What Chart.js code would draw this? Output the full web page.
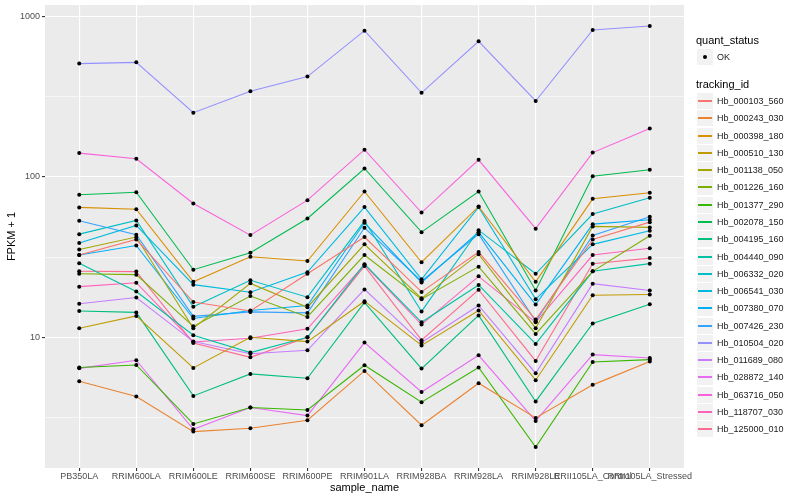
<!DOCTYPE html>
<html>
<head>
<meta charset="utf-8">
<script src="https://cdn.jsdelivr.net/npm/chart.js@4.4.0/dist/chart.umd.min.js"></script>
<style>
  body { margin: 0; background: #fff; font-family: "Liberation Sans", Arial, sans-serif; }
  #wrap { position: relative; width: 800px; height: 500px; }
  #legend { position: absolute; left: 0; top: 0; width: 800px; height: 500px; pointer-events: none; }
  .lt { position: absolute; left: 696px; font-size: 11px; color: #000; line-height: 14px; }
  .key { position: absolute; left: 697px; width: 16px; height: 16px; background: #F2F2F2; }
  .kl { position: absolute; left: 1px; top: 7px; width: 14px; height: 2px; }
  .dot { position: absolute; left: 6px; top: 6px; width: 4px; height: 4px; border-radius: 50%; background: #000; }
  .lab { position: absolute; left: 717px; font-size: 9px; color: #1a1a1a; line-height: 12px; }
</style>
</head>
<body>
<div id="wrap">
  <canvas id="chart" width="800" height="500"></canvas>
  <div id="legend"></div>
</div>
<script>
// sample order along the x axis
const samples = ["PB350LA", "RRIM600LA", "RRIM600LE", "RRIM600SE", "RRIM600PE", "RRIM901LA",
                 "RRIM928BA", "RRIM928LA", "RRIM928LE", "RRII105LA_Control", "RRII105LA_Stressed"];

// FPKM + 1, one array per gene, same order as samples
const hb_000103_560 = [32.6, 40.8, 16.6, 14.6, 24.9, 42.2, 19.2, 34.0, 12.9, 40.8, 52.3];
const hb_000243_030 = [5.32, 4.27, 2.58, 2.71, 3.04, 6.17, 2.83, 5.17, 3.14, 5.05, 7.06];
const hb_000398_180 = [64.6, 63.0, 22.2, 31.8, 29.9, 81.2, 29.4, 65.5, 22.2, 73.1, 79.7];
const hb_000510_130 = [11.4, 13.6, 6.44, 10.0, 9.4, 16.8, 8.9, 14.7, 5.4, 18.3, 18.5];
const hb_001138_050 = [35.3, 42.2, 11.4, 21.7, 15.4, 38.0, 17.5, 33.0, 11.4, 49.2, 48.5];
const hb_001226_160 = [24.9, 24.6, 11.7, 18.1, 13.4, 32.6, 17.3, 27.6, 10.5, 25.8, 43.0];
const hb_001377_290 = [6.48, 6.72, 2.88, 3.65, 3.52, 6.69, 3.94, 6.48, 2.07, 7.02, 7.26];
const hb_002078_150 = [77.5, 80.4, 26.4, 33.7, 55.1, 113, 45.3, 81.2, 19.6, 101, 111];
const hb_004195_160 = [14.6, 14.3, 4.31, 5.91, 5.55, 16.5, 6.38, 13.7, 3.98, 12.2, 16.1];
const hb_004440_090 = [29.0, 19.3, 10.3, 8.03, 10.0, 28.6, 12.4, 21.2, 9.09, 25.8, 28.8];
const hb_006332_020 = [44.0, 53.6, 15.5, 22.7, 17.8, 53.1, 14.5, 46.6, 24.9, 58.7, 74.2];
const hb_006541_030 = [38.7, 49.9, 21.3, 19.1, 25.5, 64.9, 23.0, 64.9, 17.3, 38.0, 46.2];
const hb_007380_070 = [32.6, 37.4, 13.1, 14.7, 15.8, 51.8, 22.0, 45.3, 16.0, 50.8, 54.1];
const hb_007426_230 = [53.3, 43.6, 13.5, 14.4, 14.2, 48.2, 22.4, 44.0, 12.6, 43.2, 56.5];
const hb_010504_020 = [510, 519, 252, 343, 423, 818, 335, 702, 298, 826, 875];
const hb_011689_080 = [16.2, 17.7, 9.4, 7.9, 8.3, 19.9, 9.27, 15.8, 5.97, 21.6, 19.6];
const hb_028872_140 = [6.4, 7.19, 2.67, 3.65, 3.25, 9.27, 4.56, 7.72, 3.01, 7.80, 7.43];
const hb_063716_050 = [141, 130, 68.4, 43.4, 71.7, 148, 60, 128, 47.6, 142, 201];
const hb_118707_030 = [20.7, 21.9, 9.35, 9.86, 11.3, 28.4, 12.0, 24.0, 12.4, 32.6, 35.9];
const hb_125000_010 = [25.8, 25.7, 9.2, 7.5, 10.0, 27.8, 9.6, 19.8, 7.12, 28.8, 31.2];

const series = [
  ["Hb_000103_560", hb_000103_560], ["Hb_000243_030", hb_000243_030],
  ["Hb_000398_180", hb_000398_180], ["Hb_000510_130", hb_000510_130],
  ["Hb_001138_050", hb_001138_050], ["Hb_001226_160", hb_001226_160],
  ["Hb_001377_290", hb_001377_290], ["Hb_002078_150", hb_002078_150],
  ["Hb_004195_160", hb_004195_160], ["Hb_004440_090", hb_004440_090],
  ["Hb_006332_020", hb_006332_020], ["Hb_006541_030", hb_006541_030],
  ["Hb_007380_070", hb_007380_070], ["Hb_007426_230", hb_007426_230],
  ["Hb_010504_020", hb_010504_020], ["Hb_011689_080", hb_011689_080],
  ["Hb_028872_140", hb_028872_140], ["Hb_063716_050", hb_063716_050],
  ["Hb_118707_030", hb_118707_030], ["Hb_125000_010", hb_125000_010]
];

const yTicks = [Math.sqrt(10), 10, Math.sqrt(1000), 100, Math.sqrt(100000), 1000];
const majorTicks = [10, 100, 1000];

// ggplot hue palette, 20 levels
const palette = ["#F8766D", "#EA8331", "#D89000", "#C09B00", "#A3A500", "#7CAE00", "#39B600",
                 "#00BB4E", "#00BF7D", "#00C1A3", "#00BFC4", "#00BAE0", "#00B0F6", "#35A2FF",
                 "#9590FF", "#C77CFF", "#E76BF3", "#FA62DB", "#FF62BC", "#FF6C91"];

const isMajor = v => majorTicks.some(m => Math.abs(m - v) < 1e-6);

const datasets = [];
series.forEach(([name, vals], i) => {
  const pts = vals.map((v, j) => ({ x: j, y: v }));
  datasets.push({
    label: name, data: pts, borderColor: palette[i], borderWidth: 1.1,
    pointRadius: 0, fill: false, order: 2
  });
  datasets.push({
    label: name + " pts", data: pts, showLine: false, pointRadius: 2,
    pointBackgroundColor: "#000", pointBorderWidth: 0, order: 1
  });
});

const panelBg = {
  id: "panelBg",
  beforeDraw(chart) {
    const a = chart.chartArea, c = chart.ctx;
    c.save();
    c.fillStyle = "#EBEBEB";
    c.fillRect(a.left, a.top, a.right - a.left, a.bottom - a.top);
    c.restore();
  }
};

new Chart(document.getElementById("chart"), {
  type: "line",
  data: { datasets },
  plugins: [panelBg],
  options: {
    responsive: false,
    animation: false,
    layout: { padding: { top: 5, right: 116, left: 0, bottom: 0 } },
    plugins: { legend: { display: false }, tooltip: { enabled: false } },
    scales: {
      x: {
        type: "linear", min: -0.6, max: 10.6,
        afterBuildTicks: s => { s.ticks = samples.map((_, i) => ({ value: i })); },
        afterFit: s => { s.height = 32; s.paddingLeft = 0; s.paddingRight = 0; },
        border: { display: false },
        grid: { color: "#fff", lineWidth: 1.1, tickColor: "#333", tickLength: 3 },
        ticks: {
          autoSkip: false, maxRotation: 0, padding: 0, color: "#4D4D4D",
          font: { family: "Liberation Sans", size: 9 },
          callback: v => samples[v]
        },
        title: { display: true, text: "sample_name", color: "#000",
                 font: { family: "Liberation Sans", size: 11 }, padding: { bottom: 5 } }
      },
      y: {
        type: "logarithmic", min: 1.53, max: 1183,
        afterBuildTicks: s => { s.ticks = yTicks.map(v => ({ value: v })); },
        afterFit: s => { s.width = 45; s.paddingTop = 0; s.paddingBottom = 0; },
        border: { display: false },
        grid: {
          color: "#fff",
          lineWidth: c => isMajor(c.tick.value) ? 1.1 : 0.55,
          tickColor: c => isMajor(c.tick.value) ? "#333" : "rgba(0,0,0,0)",
          tickLength: 3
        },
        ticks: {
          padding: 2, color: "#4D4D4D", font: { family: "Liberation Sans", size: 9 },
          callback: v => isMajor(v) ? String(Math.round(v)) : ""
        },
        title: { display: true, text: "FPKM + 1", color: "#000",
                 font: { family: "Liberation Sans", size: 11 }, padding: { top: 5 } }
      }
    }
  }
});

// ggplot-style legend on the right
const lg = document.getElementById("legend");
function add(cls, top, html) {
  const d = document.createElement("div");
  d.className = cls;
  d.style.top = top + "px";
  d.innerHTML = html;
  lg.appendChild(d);
  return d;
}
add("lt", 33, "quant_status");
add("key", 49, '<div class="dot"></div>');
add("lab", 51, "OK");
add("lt", 77, "tracking_id");
series.forEach(([name], i) => {
  const cy = Math.round(101 + i * 17.28);
  add("key", cy - 8, '<div class="kl" style="background:' + palette[i] + '"></div>');
  add("lab", cy - 6, name);
});
</script>
</body>
</html>
